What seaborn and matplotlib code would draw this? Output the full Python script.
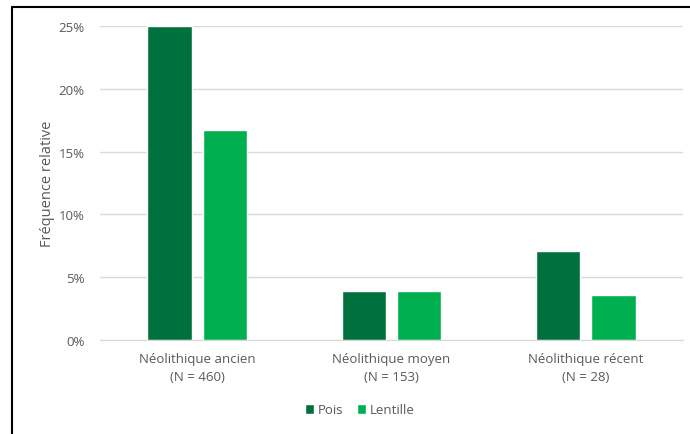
import pandas as pd
import matplotlib.pyplot as plt
import matplotlib.ticker as mticker
from matplotlib.lines import Line2D
import seaborn as sns

sns.set_style("white")

periods = ["Néolithique ancien\n(N = 460)", "Néolithique moyen\n(N = 153)", "Néolithique récent\n(N = 28)"]
pois = [0.25, 0.039, 0.071]
lentille = [0.167, 0.039, 0.036]
series = ["Pois", "Lentille"]
colors = ["#00703C", "#00B050"]

plt.rcParams["font.family"] = ["Open Sans", "DejaVu Sans"]
TEXT = "#595959"

df = pd.DataFrame({
    "period": periods * 2,
    "serie": [series[0]] * 3 + [series[1]] * 3,
    "freq": pois + lentille,
})

fig = plt.figure(figsize=(6.9, 4.35), dpi=100)
ax = fig.add_axes([100 / 690, 1 - 341 / 435, 583 / 690, 314 / 435])

sns.barplot(data=df, x="period", y="freq", hue="serie", palette=colors,
            width=0.57, gap=0.2, ax=ax, saturation=1, legend=True)

ax.set_ylim(0, 0.25)
ax.set_xlim(-0.5, 2.5)
ax.yaxis.set_major_locator(mticker.MultipleLocator(0.05))
ax.yaxis.set_major_formatter(mticker.PercentFormatter(1.0, decimals=0))
ax.grid(axis="y", color="#D9D9D9", linewidth=1)
ax.set_axisbelow(True)
for s in ["top", "right", "left"]:
    ax.spines[s].set_visible(False)
ax.spines["bottom"].set_color("#D9D9D9")
ax.tick_params(axis="both", length=0, labelsize=9.5, colors=TEXT)
ax.tick_params(axis="y", pad=11)
ax.tick_params(axis="x", pad=9)
for lbl in ax.get_xticklabels():
    lbl.set_linespacing(1.5)
ax.set_xlabel("")
ax.set_ylabel("Fréquence relative", fontsize=10.5, color=TEXT)
ax.yaxis.set_label_coords(-0.078, 0.5)

leg = ax.legend(loc="center", bbox_to_anchor=(360 / 690, 1 - 411 / 435),
                bbox_transform=fig.transFigure, ncol=2, frameon=False,
                fontsize=9.5, handlelength=0.7, handleheight=0.7, handletextpad=0.3,
                columnspacing=1.0, labelcolor=TEXT)

# outer frame (top and left edges)
fig.add_artist(Line2D([11.5 / 690, 11.5 / 690], [0, 1 - 7.5 / 435], color="black", linewidth=1.5))
fig.add_artist(Line2D([11.5 / 690, 1], [1 - 7.5 / 435, 1 - 7.5 / 435], color="black", linewidth=1.5))

fig.savefig("out.png", dpi=100)
